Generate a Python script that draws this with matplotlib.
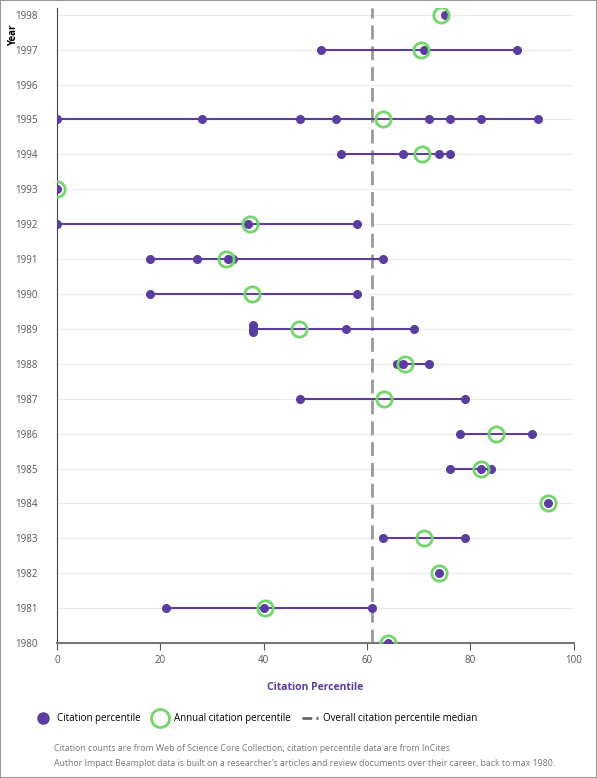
import matplotlib
matplotlib.use("Agg")
import matplotlib.pyplot as plt
from matplotlib.lines import Line2D
from matplotlib.patches import Rectangle

years = list(range(1980, 1999))
# citation percentiles of individual documents per year
doc_pct = {
    1998: [75],
    1997: [51, 71, 89],
    1996: [],
    1995: [0, 28, 47, 54, 72, 76, 82, 93],
    1994: [55, 67, 74, 76],
    1993: [0],
    1992: [0, 37, 58],
    1991: [18, 27, 33, 34, 63],
    1990: [18, 58],
    1989: [38, 38, 38, 56, 69],
    1988: [65.8, 67, 72],
    1987: [47, 79],
    1986: [78, 92],
    1985: [76, 82, 84],
    1984: [95],
    1983: [63, 79],
    1982: [74],
    1981: [21, 40, 61],
    1980: [64],
}
annual_pct = {
    1998: 74.3, 1997: 70.5, 1995: 63, 1994: 70.7, 1993: 0, 1992: 37.3,
    1991: 32.8, 1990: 37.7, 1989: 46.8, 1988: 67.4, 1987: 63.2, 1986: 85,
    1985: 82, 1984: 95, 1983: 71, 1982: 74, 1981: 40.3, 1980: 64,
}
median_pct = 61

purple = "#5a3d9e"
green = "#72d66a"

plt.rcParams["font.family"] = ["Open Sans", "DejaVu Sans"]
fig = plt.figure(figsize=(5.97, 7.78), dpi=100)
ax = fig.add_axes([0.0955, 0.1735, 0.8655, 0.8165])

for y in years:
    ax.axhline(y, color="#ececec", lw=0.8, zorder=0)

for y, vals in doc_pct.items():
    if not vals:
        continue
    if len(vals) > 1:
        ax.plot([min(vals), max(vals)], [y, y], color=purple, lw=1.5, zorder=2)
    seen = {}
    for v in vals:
        k = seen.get(v, 0)
        seen[v] = k + 1
        off = (k - 1) * 0.1 if vals.count(v) > 1 else 0
        ax.plot(v, y + off, "o", color=purple, ms=5.5, zorder=3)

ax.plot(list(annual_pct.values()), list(annual_pct.keys()), "o", mfc="none",
        mec=green, mew=2, ms=11, linestyle="none", zorder=4)

ax.axvline(median_pct, color="#999999", lw=2, ls=(0, (5, 2.5)), zorder=1)

ax.set_xlim(0, 100)
ax.set_ylim(1980, 1998.2)
ax.set_yticks(years)
ax.set_xticks(range(0, 101, 20))
ax.tick_params(axis="y", length=0, labelsize=7, colors="#555555", pad=14)
ax.tick_params(axis="x", length=5, labelsize=7, colors="#555555")
for s in ["top", "right"]:
    ax.spines[s].set_visible(False)
ax.spines["left"].set_color("#444444")
ax.spines["left"].set_linewidth(0.8)
ax.spines["bottom"].set_color("#777777")
ax.spines["bottom"].set_linewidth(1.5)
for lbl in ax.get_xticklabels() + ax.get_yticklabels():
    lbl.set_color("#555555")

ax.set_xlabel("Citation Percentile", color=purple, fontsize=7.5, fontweight="bold", labelpad=12)
fig.text(0.022, 0.955, "Year", rotation=90, fontsize=7, fontweight="bold", ha="center", va="center")

handles = [
    Line2D([], [], marker="o", color=purple, ls="none", ms=8),
    Line2D([], [], marker="o", mfc="none", mec=green, mew=2, ls="none", ms=13),
    Line2D([], [], color="#666666", lw=2, ls=(0, (3.5, 1.5))),
]
fig.legend(handles, ["Citation percentile", "Annual citation percentile",
                     "Overall citation percentile median"],
           loc="center left", bbox_to_anchor=(0.045, 0.076), ncol=3, frameon=False,
           fontsize=7, handlelength=1.6, columnspacing=1.2, handletextpad=0.6)

fig.text(0.09, 0.035, "Citation counts are from Web of Science Core Collection; citation percentile data are from InCites",
         fontsize=6.3, color="#777777")
fig.text(0.09, 0.015, "Author Impact Beamplot data is built on a researcher's articles and review documents over their career, back to max 1980.",
         fontsize=6.3, color="#777777")

fig.patches.append(Rectangle((0, 0), 1, 1, transform=fig.transFigure, fill=False,
                             edgecolor="#999999", lw=1.5))

fig.savefig("out.png", dpi=100)
